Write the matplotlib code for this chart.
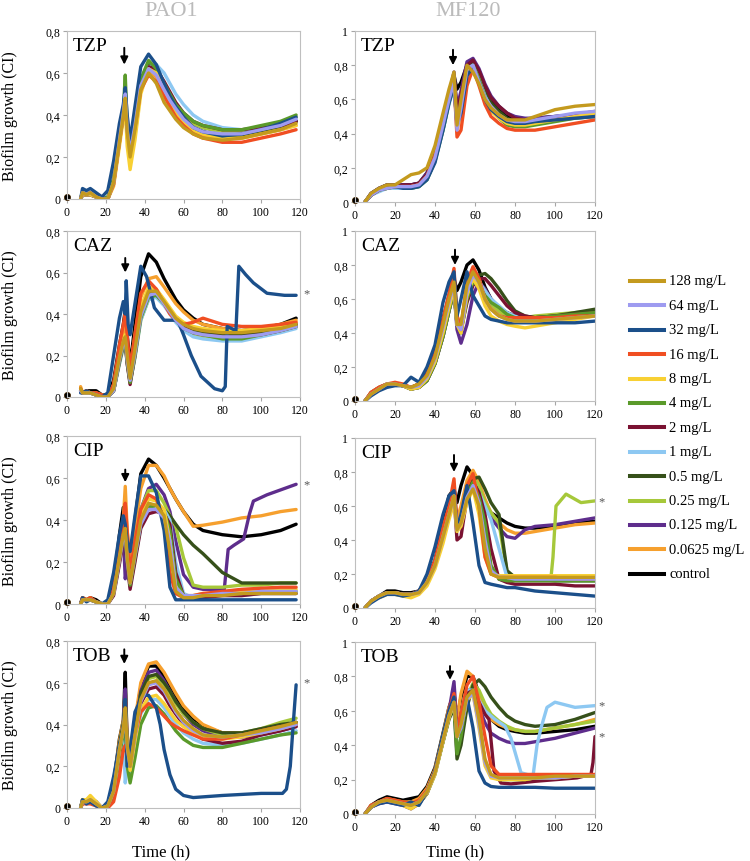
import matplotlib
matplotlib.use("Agg")
import matplotlib.pyplot as plt
from matplotlib.lines import Line2D

plt.rcParams["font.family"] = ["Liberation Serif", "DejaVu Serif"]

CONC = ["128 mg/L", "64 mg/L", "32 mg/L", "16 mg/L", "8 mg/L", "4 mg/L", "2 mg/L",
        "1 mg/L", "0.5 mg/L", "0.25 mg/L", "0.125 mg/L", "0.0625 mg/L", "control"]
COLORS = ["#C49A1E", "#9E9BF0", "#1B4F8A", "#F04E22", "#F8D033", "#5A9A2A", "#7A1232",
          "#8DC8F2", "#36501A", "#A6C83A", "#5E2D8C", "#F6A02E", "#000000"]

# time grids (h); first point is the lone reading at t=0
PAO1_T = [0, 7, 8, 10, 12, 15, 18, 21, 24, 27, 29, 30, 31, 32.5, 35, 38, 42, 46, 50, 53,
          56, 60, 65, 70, 80, 90, 100, 110, 118]
MF120_T = [0, 5, 8, 12, 16, 20, 24, 28, 32, 36, 40, 44, 47, 49.5, 51, 53, 56, 59, 62, 65,
           68, 72, 76, 80, 85, 90, 100, 110, 120]

# curves that need their own time points
PAO1_CAZ_32_T = [0, 7, 8, 10, 12, 15, 18, 21, 24, 27, 29, 30, 30.5, 31.5, 32.5, 35, 38, 41, 45, 50,
                 57, 60, 64, 69, 76, 80, 81.5, 82.5, 87, 88.5, 92, 96, 103, 112, 118]
PAO1_CAZ_32_V = [0.01, 0.02, 0.02, 0.03, 0.02, 0.01, 0.0, 0.02, 0.2, 0.38, 0.46, 0.4, 0.56, 0.35, 0.3,
                 0.45, 0.63, 0.58, 0.43, 0.37, 0.37, 0.3, 0.2, 0.1, 0.04, 0.03, 0.05, 0.34, 0.32, 0.63,
                 0.59, 0.55, 0.5, 0.49, 0.49]
PAO1_CIP_0125_T = [0, 7, 8, 10, 12, 15, 18, 21, 24, 27, 29, 30, 31, 32.5, 35, 38, 42, 46, 50, 53,
                   56, 60, 65, 70, 81, 83, 86, 91, 94, 96, 103, 118]
PAO1_CIP_0125_V = [0.01, 0.0, 0.02, 0.02, 0.02, 0.01, 0.0, 0.0, 0.06, 0.22, 0.33, 0.12, 0.18, 0.1, 0.25,
                   0.45, 0.55, 0.57, 0.52, 0.44, 0.3, 0.14, 0.08, 0.07, 0.07, 0.26, 0.28, 0.31, 0.43,
                   0.49, 0.52, 0.57]
PAO1_TOB_32_T = [0, 7, 8, 10, 12, 15, 18, 21, 24, 27, 29, 30, 31, 32.5, 35, 39, 42, 46, 48, 50,
                 53, 56, 60, 65, 80, 100, 111, 113, 115, 116.5, 118]
PAO1_TOB_32_V = [0.01, 0.0, 0.04, 0.02, 0.03, 0.01, 0.0, 0.03, 0.15, 0.3, 0.38, 0.52, 0.2, 0.28, 0.46,
                 0.54, 0.54, 0.48, 0.4, 0.28, 0.16, 0.09, 0.06, 0.05, 0.06, 0.07, 0.07, 0.09, 0.2,
                 0.4, 0.59]
MF120_CIP_025_T = [0, 5, 8, 12, 16, 20, 24, 28, 32, 36, 40, 44, 47, 49.5, 51, 53, 56, 59, 62, 65,
                   68, 72, 74, 76, 78, 90, 98, 99, 100.5, 105.5, 113, 120]
MF120_CIP_025_V = [0.01, 0.0, 0.04, 0.07, 0.09, 0.09, 0.08, 0.08, 0.09, 0.15, 0.25, 0.42, 0.55, 0.66,
                   0.48, 0.52, 0.7, 0.77, 0.72, 0.62, 0.56, 0.5, 0.35, 0.22, 0.18, 0.18, 0.18, 0.3,
                   0.6, 0.67, 0.62, 0.63]
MF120_TOB_1_T = [0, 5, 8, 12, 16, 20, 24, 28, 32, 36, 40, 44, 47, 49.5, 51, 53, 56, 59, 62, 65,
                 70, 75, 78, 80, 83, 89, 91, 93, 96, 100, 110, 120]
MF120_TOB_1_V = [0.01, 0.0, 0.04, 0.07, 0.08, 0.07, 0.06, 0.05, 0.07, 0.13, 0.24, 0.43, 0.57, 0.66,
                 0.5, 0.55, 0.72, 0.72, 0.66, 0.6, 0.55, 0.51, 0.44, 0.36, 0.24, 0.22, 0.4, 0.5,
                 0.62, 0.65, 0.62, 0.63]
MF120_TOB_2_T = [0, 5, 8, 12, 16, 20, 24, 28, 32, 36, 40, 44, 47, 49.5, 51, 53, 56, 59, 62, 65,
                 67, 69.5, 73, 78, 90, 111, 118, 119, 120]
MF120_TOB_2_V = [0.01, 0.0, 0.04, 0.07, 0.08, 0.07, 0.06, 0.04, 0.06, 0.12, 0.24, 0.43, 0.58, 0.66,
                 0.5, 0.52, 0.7, 0.72, 0.65, 0.58, 0.55, 0.25, 0.18, 0.175, 0.19, 0.21, 0.23, 0.3,
                 0.45]

# one row per concentration, in CONC order, values on the strain's grid
PAO1_TZP = [
    [0.01, 0.0, 0.03, 0.02, 0.03, 0.01, 0.0, 0.0, 0.08, 0.27, 0.4, 0.48, 0.32, 0.2, 0.33, 0.52, 0.6, 0.55, 0.46, 0.42, 0.38, 0.34, 0.31, 0.29, 0.28, 0.29, 0.31, 0.33, 0.36],
    [0.01, 0.0, 0.03, 0.02, 0.03, 0.01, 0.0, 0.0, 0.08, 0.28, 0.41, 0.5, 0.33, 0.22, 0.35, 0.54, 0.62, 0.59, 0.52, 0.47, 0.43, 0.38, 0.34, 0.32, 0.31, 0.31, 0.33, 0.35, 0.38],
    [0.01, 0.0, 0.05, 0.04, 0.05, 0.03, 0.01, 0.04, 0.18, 0.36, 0.45, 0.53, 0.4, 0.28, 0.44, 0.63, 0.69, 0.64, 0.55, 0.49, 0.44, 0.39, 0.34, 0.32, 0.3, 0.31, 0.33, 0.36, 0.39],
    [0.01, 0.0, 0.03, 0.02, 0.03, 0.01, 0.0, 0.0, 0.07, 0.27, 0.4, 0.45, 0.33, 0.24, 0.34, 0.52, 0.59, 0.56, 0.49, 0.44, 0.39, 0.35, 0.31, 0.29, 0.27, 0.27, 0.29, 0.31, 0.33],
    [0.01, 0.0, 0.02, 0.02, 0.02, 0.01, 0.0, 0.0, 0.06, 0.25, 0.38, 0.43, 0.25, 0.14, 0.28, 0.5, 0.62, 0.6, 0.53, 0.47, 0.42, 0.37, 0.33, 0.31, 0.29, 0.29, 0.31, 0.33, 0.35],
    [0.01, 0.0, 0.03, 0.02, 0.03, 0.01, 0.0, 0.01, 0.1, 0.3, 0.42, 0.59, 0.35, 0.22, 0.36, 0.57, 0.66, 0.62, 0.55, 0.5, 0.45, 0.41, 0.37, 0.35, 0.33, 0.33, 0.35, 0.37, 0.4],
    [0.01, 0.0, 0.02, 0.02, 0.02, 0.01, 0.0, 0.0, 0.08, 0.28, 0.4, 0.48, 0.3, 0.2, 0.33, 0.54, 0.63, 0.62, 0.56, 0.51, 0.46, 0.41, 0.37, 0.35, 0.33, 0.33, 0.34, 0.35, 0.37],
    [0.01, 0.0, 0.02, 0.02, 0.02, 0.01, 0.0, 0.0, 0.07, 0.27, 0.39, 0.47, 0.3, 0.17, 0.3, 0.52, 0.63, 0.64, 0.6, 0.55, 0.5, 0.45, 0.4, 0.37, 0.34, 0.33, 0.34, 0.36, 0.38],
    [0.01, 0.0, 0.03, 0.02, 0.03, 0.01, 0.0, 0.0, 0.08, 0.28, 0.41, 0.5, 0.32, 0.22, 0.35, 0.55, 0.64, 0.61, 0.54, 0.48, 0.43, 0.38, 0.34, 0.32, 0.3, 0.3, 0.32, 0.34, 0.37],
    [0.01, 0.0, 0.02, 0.02, 0.02, 0.01, 0.0, 0.0, 0.08, 0.28, 0.41, 0.52, 0.32, 0.2, 0.34, 0.56, 0.65, 0.62, 0.55, 0.5, 0.45, 0.4, 0.36, 0.34, 0.32, 0.32, 0.34, 0.36, 0.39],
    [0.01, 0.0, 0.02, 0.02, 0.02, 0.01, 0.0, 0.0, 0.08, 0.28, 0.41, 0.5, 0.32, 0.21, 0.34, 0.55, 0.63, 0.6, 0.54, 0.49, 0.44, 0.4, 0.36, 0.34, 0.32, 0.32, 0.33, 0.35, 0.37],
    [0.01, 0.0, 0.03, 0.02, 0.02, 0.01, 0.0, 0.0, 0.07, 0.27, 0.4, 0.46, 0.3, 0.19, 0.32, 0.52, 0.61, 0.58, 0.51, 0.45, 0.4, 0.36, 0.32, 0.3, 0.29, 0.29, 0.31, 0.33, 0.35],
    [0.01, 0.0, 0.02, 0.02, 0.02, 0.01, 0.0, 0.0, 0.08, 0.28, 0.41, 0.5, 0.33, 0.22, 0.35, 0.55, 0.64, 0.6, 0.53, 0.48, 0.43, 0.38, 0.34, 0.32, 0.3, 0.3, 0.32, 0.34, 0.37],
]
PAO1_CAZ = [
    [0.01, 0.04, 0.02, 0.02, 0.02, 0.01, 0.0, 0.0, 0.04, 0.19, 0.27, 0.29, 0.2, 0.09, 0.23, 0.41, 0.51, 0.51, 0.46, 0.42, 0.38, 0.35, 0.33, 0.32, 0.31, 0.31, 0.32, 0.33, 0.35],
    [0.01, 0.03, 0.02, 0.02, 0.02, 0.01, 0.0, 0.0, 0.03, 0.18, 0.26, 0.28, 0.18, 0.08, 0.21, 0.39, 0.49, 0.5, 0.45, 0.41, 0.37, 0.33, 0.31, 0.3, 0.29, 0.29, 0.3, 0.32, 0.34],
    (PAO1_CAZ_32_T, PAO1_CAZ_32_V),
    [0.01, 0.04, 0.02, 0.03, 0.02, 0.02, 0.01, 0.0, 0.06, 0.25, 0.35, 0.4, 0.3, 0.13, 0.3, 0.5, 0.56, 0.52, 0.45, 0.4, 0.37, 0.35, 0.36, 0.38, 0.35, 0.34, 0.34, 0.35, 0.36],
    [0.01, 0.03, 0.02, 0.02, 0.02, 0.01, 0.0, 0.0, 0.04, 0.2, 0.28, 0.3, 0.2, 0.1, 0.25, 0.43, 0.53, 0.52, 0.47, 0.43, 0.39, 0.36, 0.34, 0.33, 0.32, 0.32, 0.33, 0.34, 0.36],
    [0.01, 0.03, 0.02, 0.02, 0.02, 0.01, 0.0, 0.0, 0.03, 0.17, 0.25, 0.27, 0.17, 0.07, 0.2, 0.38, 0.48, 0.49, 0.45, 0.41, 0.37, 0.33, 0.31, 0.3, 0.28, 0.28, 0.3, 0.32, 0.34],
    [0.01, 0.03, 0.02, 0.02, 0.02, 0.01, 0.0, 0.0, 0.03, 0.17, 0.25, 0.26, 0.16, 0.06, 0.2, 0.39, 0.49, 0.5, 0.46, 0.42, 0.38, 0.34, 0.31, 0.3, 0.29, 0.29, 0.3, 0.32, 0.34],
    [0.01, 0.03, 0.02, 0.02, 0.02, 0.01, 0.0, 0.0, 0.03, 0.16, 0.24, 0.26, 0.16, 0.07, 0.19, 0.37, 0.47, 0.48, 0.44, 0.4, 0.36, 0.32, 0.29, 0.28, 0.27, 0.27, 0.29, 0.31, 0.33],
    [0.01, 0.03, 0.02, 0.02, 0.02, 0.01, 0.0, 0.0, 0.03, 0.18, 0.26, 0.28, 0.18, 0.08, 0.21, 0.4, 0.5, 0.5, 0.46, 0.42, 0.38, 0.34, 0.32, 0.31, 0.3, 0.3, 0.31, 0.33, 0.35],
    [0.01, 0.03, 0.02, 0.02, 0.02, 0.01, 0.0, 0.0, 0.03, 0.16, 0.24, 0.26, 0.16, 0.07, 0.19, 0.37, 0.47, 0.49, 0.45, 0.41, 0.37, 0.33, 0.3, 0.29, 0.28, 0.28, 0.3, 0.32, 0.34],
    [0.01, 0.03, 0.02, 0.02, 0.02, 0.01, 0.0, 0.0, 0.03, 0.18, 0.26, 0.28, 0.18, 0.08, 0.21, 0.4, 0.5, 0.5, 0.46, 0.42, 0.38, 0.34, 0.32, 0.31, 0.3, 0.3, 0.31, 0.33, 0.35],
    [0.01, 0.05, 0.02, 0.03, 0.02, 0.02, 0.01, 0.0, 0.06, 0.22, 0.3, 0.35, 0.25, 0.14, 0.3, 0.48, 0.57, 0.58, 0.53, 0.49, 0.45, 0.41, 0.37, 0.35, 0.33, 0.32, 0.33, 0.35, 0.37],
    [0.01, 0.04, 0.02, 0.03, 0.03, 0.03, 0.01, 0.01, 0.08, 0.25, 0.35, 0.42, 0.3, 0.15, 0.35, 0.58, 0.69, 0.65, 0.57, 0.52, 0.47, 0.42, 0.38, 0.35, 0.33, 0.32, 0.33, 0.35, 0.38],
]
PAO1_CIP = [
    [0.01, 0.0, 0.02, 0.02, 0.02, 0.01, 0.0, 0.0, 0.05, 0.22, 0.33, 0.36, 0.22, 0.1, 0.24, 0.4, 0.48, 0.47, 0.42, 0.25, 0.06, 0.03, 0.03, 0.04, 0.04, 0.05, 0.05, 0.05, 0.05],
    [0.01, 0.0, 0.02, 0.02, 0.02, 0.01, 0.0, 0.0, 0.05, 0.21, 0.32, 0.34, 0.21, 0.1, 0.23, 0.38, 0.45, 0.45, 0.41, 0.3, 0.08, 0.04, 0.04, 0.04, 0.05, 0.05, 0.06, 0.06, 0.06],
    [0.01, 0.0, 0.03, 0.01, 0.02, 0.01, 0.0, 0.02, 0.15, 0.33, 0.42, 0.38, 0.3, 0.25, 0.42, 0.61, 0.61, 0.53, 0.35, 0.08, 0.02, 0.02, 0.02, 0.02, 0.02, 0.02, 0.02, 0.02, 0.02],
    [0.01, 0.0, 0.03, 0.02, 0.03, 0.01, 0.0, 0.0, 0.07, 0.27, 0.4, 0.48, 0.35, 0.15, 0.3, 0.45, 0.52, 0.5, 0.4, 0.15, 0.05, 0.03, 0.04, 0.05, 0.06, 0.07, 0.075, 0.08, 0.08],
    [0.01, 0.0, 0.02, 0.02, 0.02, 0.01, 0.0, 0.0, 0.06, 0.25, 0.36, 0.4, 0.25, 0.12, 0.27, 0.43, 0.5, 0.49, 0.45, 0.3, 0.08, 0.04, 0.04, 0.05, 0.05, 0.06, 0.06, 0.07, 0.07],
    [0.01, 0.0, 0.02, 0.02, 0.02, 0.01, 0.0, 0.0, 0.05, 0.21, 0.32, 0.35, 0.21, 0.09, 0.22, 0.38, 0.46, 0.47, 0.44, 0.35, 0.12, 0.04, 0.03, 0.04, 0.05, 0.05, 0.06, 0.06, 0.06],
    [0.01, 0.0, 0.02, 0.02, 0.02, 0.01, 0.0, 0.0, 0.04, 0.19, 0.3, 0.32, 0.19, 0.07, 0.2, 0.36, 0.43, 0.44, 0.43, 0.38, 0.15, 0.04, 0.03, 0.03, 0.04, 0.04, 0.05, 0.05, 0.05],
    [0.01, 0.0, 0.02, 0.02, 0.02, 0.01, 0.0, 0.0, 0.05, 0.2, 0.31, 0.34, 0.2, 0.08, 0.21, 0.37, 0.46, 0.47, 0.45, 0.4, 0.2, 0.05, 0.03, 0.04, 0.04, 0.04, 0.05, 0.05, 0.05],
    [0.01, 0.0, 0.02, 0.02, 0.02, 0.01, 0.0, 0.0, 0.06, 0.22, 0.33, 0.3, 0.2, 0.1, 0.22, 0.38, 0.46, 0.47, 0.45, 0.42, 0.38, 0.33, 0.28, 0.24, 0.15, 0.1, 0.1, 0.1, 0.1],
    [0.01, 0.0, 0.02, 0.02, 0.02, 0.01, 0.0, 0.0, 0.06, 0.24, 0.35, 0.4, 0.25, 0.12, 0.28, 0.45, 0.54, 0.54, 0.48, 0.42, 0.37, 0.22, 0.09, 0.08, 0.08, 0.09, 0.09, 0.1, 0.1],
    (PAO1_CIP_0125_T, PAO1_CIP_0125_V),
    [0.01, 0.0, 0.03, 0.02, 0.03, 0.01, 0.0, 0.0, 0.07, 0.27, 0.4, 0.56, 0.35, 0.2, 0.35, 0.55, 0.66, 0.66, 0.61, 0.55, 0.5, 0.44, 0.37, 0.375, 0.39, 0.41, 0.42, 0.44, 0.45],
    [0.01, 0.0, 0.03, 0.02, 0.03, 0.02, 0.0, 0.01, 0.1, 0.33, 0.46, 0.38, 0.3, 0.2, 0.4, 0.62, 0.69, 0.66, 0.6, 0.55, 0.5, 0.44, 0.38, 0.35, 0.33, 0.32, 0.33, 0.35, 0.38],
]
PAO1_TOB = [
    [0.01, 0.0, 0.03, 0.03, 0.04, 0.02, 0.0, 0.01, 0.08, 0.28, 0.38, 0.48, 0.3, 0.2, 0.35, 0.52, 0.6, 0.61, 0.57, 0.52, 0.47, 0.42, 0.38, 0.35, 0.34, 0.35, 0.37, 0.39, 0.41],
    [0.01, 0.0, 0.03, 0.03, 0.04, 0.02, 0.0, 0.01, 0.08, 0.28, 0.38, 0.47, 0.29, 0.2, 0.34, 0.51, 0.59, 0.6, 0.56, 0.51, 0.46, 0.41, 0.37, 0.35, 0.34, 0.35, 0.36, 0.38, 0.4],
    (PAO1_TOB_32_T, PAO1_TOB_32_V),
    [0.01, 0.0, 0.02, 0.02, 0.02, 0.01, 0.0, 0.0, 0.03, 0.15, 0.28, 0.3, 0.25, 0.2, 0.35, 0.46, 0.5, 0.48, 0.44, 0.41, 0.39, 0.37, 0.35, 0.33, 0.33, 0.35, 0.37, 0.39, 0.4],
    [0.01, 0.0, 0.04, 0.04, 0.06, 0.03, 0.0, 0.01, 0.08, 0.28, 0.38, 0.45, 0.28, 0.18, 0.32, 0.47, 0.53, 0.54, 0.5, 0.46, 0.42, 0.39, 0.36, 0.34, 0.33, 0.34, 0.36, 0.38, 0.4],
    [0.01, 0.0, 0.03, 0.02, 0.03, 0.02, 0.0, 0.0, 0.06, 0.25, 0.36, 0.4, 0.2, 0.12, 0.24, 0.4, 0.48, 0.49, 0.45, 0.41, 0.37, 0.33, 0.3, 0.29, 0.29, 0.31, 0.33, 0.35, 0.36],
    [0.01, 0.0, 0.03, 0.03, 0.04, 0.02, 0.0, 0.01, 0.08, 0.28, 0.38, 0.45, 0.28, 0.2, 0.34, 0.5, 0.57, 0.58, 0.54, 0.49, 0.45, 0.4, 0.36, 0.33, 0.31, 0.32, 0.35, 0.37, 0.39],
    [0.01, 0.0, 0.03, 0.02, 0.03, 0.02, 0.0, 0.0, 0.06, 0.25, 0.36, 0.12, 0.2, 0.17, 0.3, 0.45, 0.52, 0.52, 0.48, 0.44, 0.4, 0.36, 0.33, 0.31, 0.3, 0.31, 0.33, 0.35, 0.37],
    [0.01, 0.0, 0.03, 0.03, 0.04, 0.02, 0.0, 0.01, 0.09, 0.3, 0.4, 0.5, 0.3, 0.21, 0.37, 0.55, 0.63, 0.64, 0.6, 0.56, 0.51, 0.46, 0.41, 0.38, 0.36, 0.36, 0.38, 0.4, 0.41],
    [0.01, 0.0, 0.03, 0.03, 0.04, 0.02, 0.0, 0.01, 0.09, 0.3, 0.4, 0.5, 0.3, 0.2, 0.36, 0.54, 0.62, 0.63, 0.59, 0.55, 0.5, 0.45, 0.41, 0.38, 0.35, 0.36, 0.38, 0.41, 0.43],
    [0.01, 0.0, 0.03, 0.03, 0.04, 0.02, 0.0, 0.01, 0.09, 0.3, 0.4, 0.57, 0.3, 0.22, 0.38, 0.56, 0.65, 0.66, 0.61, 0.56, 0.51, 0.45, 0.4, 0.37, 0.34, 0.34, 0.35, 0.37, 0.39],
    [0.01, 0.0, 0.04, 0.03, 0.05, 0.03, 0.0, 0.01, 0.1, 0.32, 0.42, 0.55, 0.35, 0.28, 0.42, 0.6, 0.69, 0.7, 0.65, 0.6, 0.55, 0.49, 0.44, 0.4, 0.36, 0.36, 0.37, 0.39, 0.41],
    [0.01, 0.0, 0.04, 0.03, 0.05, 0.03, 0.0, 0.02, 0.12, 0.33, 0.42, 0.65, 0.3, 0.25, 0.4, 0.58, 0.68, 0.68, 0.63, 0.58, 0.53, 0.47, 0.42, 0.39, 0.36, 0.36, 0.37, 0.39, 0.41],
]
MF120_TZP = [
    [0.01, 0.0, 0.05, 0.08, 0.1, 0.1, 0.13, 0.16, 0.17, 0.2, 0.33, 0.52, 0.66, 0.76, 0.45, 0.6, 0.8, 0.76, 0.69, 0.6, 0.55, 0.51, 0.48, 0.48, 0.48, 0.5, 0.54, 0.56, 0.57],
    [0.01, 0.0, 0.04, 0.07, 0.08, 0.09, 0.09, 0.09, 0.1, 0.15, 0.26, 0.45, 0.6, 0.7, 0.42, 0.55, 0.78, 0.8, 0.7, 0.61, 0.56, 0.51, 0.48, 0.47, 0.47, 0.48, 0.5, 0.52, 0.53],
    [0.01, 0.0, 0.04, 0.07, 0.08, 0.09, 0.08, 0.08, 0.09, 0.13, 0.23, 0.42, 0.58, 0.68, 0.45, 0.52, 0.74, 0.79, 0.7, 0.6, 0.54, 0.5, 0.47, 0.46, 0.46, 0.47, 0.48, 0.49, 0.5],
    [0.01, 0.0, 0.04, 0.07, 0.09, 0.09, 0.09, 0.09, 0.1, 0.15, 0.27, 0.45, 0.6, 0.7, 0.38, 0.42, 0.68, 0.78, 0.68, 0.57, 0.5, 0.46, 0.43, 0.42, 0.42, 0.42, 0.44, 0.46, 0.48],
    [0.01, 0.0, 0.04, 0.07, 0.08, 0.09, 0.09, 0.09, 0.1, 0.15, 0.26, 0.45, 0.6, 0.7, 0.42, 0.52, 0.76, 0.79, 0.7, 0.6, 0.53, 0.49, 0.46, 0.45, 0.45, 0.46, 0.48, 0.5, 0.52],
    [0.01, 0.0, 0.04, 0.07, 0.08, 0.09, 0.09, 0.08, 0.09, 0.13, 0.24, 0.42, 0.58, 0.68, 0.45, 0.5, 0.74, 0.8, 0.72, 0.61, 0.54, 0.49, 0.45, 0.44, 0.44, 0.45, 0.47, 0.49, 0.5],
    [0.01, 0.0, 0.04, 0.07, 0.09, 0.09, 0.1, 0.1, 0.11, 0.16, 0.27, 0.46, 0.61, 0.72, 0.55, 0.62, 0.8, 0.83, 0.77, 0.68, 0.61, 0.56, 0.52, 0.49, 0.48, 0.48, 0.49, 0.51, 0.53],
    [0.01, 0.0, 0.04, 0.06, 0.08, 0.08, 0.08, 0.08, 0.09, 0.13, 0.24, 0.42, 0.57, 0.67, 0.45, 0.52, 0.75, 0.8, 0.72, 0.62, 0.55, 0.5, 0.47, 0.46, 0.46, 0.47, 0.48, 0.49, 0.5],
    [0.01, 0.0, 0.04, 0.07, 0.09, 0.09, 0.09, 0.09, 0.1, 0.15, 0.26, 0.45, 0.6, 0.72, 0.5, 0.58, 0.78, 0.82, 0.76, 0.66, 0.58, 0.53, 0.49, 0.47, 0.47, 0.47, 0.49, 0.51, 0.52],
    [0.01, 0.0, 0.04, 0.07, 0.08, 0.09, 0.09, 0.09, 0.1, 0.15, 0.26, 0.45, 0.6, 0.7, 0.45, 0.55, 0.77, 0.8, 0.72, 0.62, 0.55, 0.5, 0.47, 0.46, 0.46, 0.47, 0.49, 0.5, 0.51],
    [0.01, 0.0, 0.05, 0.08, 0.1, 0.1, 0.1, 0.1, 0.11, 0.17, 0.29, 0.48, 0.63, 0.76, 0.55, 0.65, 0.82, 0.84, 0.78, 0.69, 0.62, 0.56, 0.52, 0.5, 0.49, 0.49, 0.5, 0.51, 0.52],
    [0.01, 0.0, 0.04, 0.07, 0.08, 0.09, 0.09, 0.09, 0.1, 0.15, 0.27, 0.46, 0.61, 0.71, 0.48, 0.56, 0.77, 0.8, 0.72, 0.62, 0.55, 0.5, 0.47, 0.46, 0.46, 0.47, 0.49, 0.5, 0.51],
    [0.01, 0.0, 0.05, 0.08, 0.1, 0.1, 0.1, 0.1, 0.11, 0.17, 0.29, 0.48, 0.63, 0.74, 0.66, 0.7, 0.8, 0.82, 0.75, 0.66, 0.59, 0.54, 0.5, 0.49, 0.48, 0.49, 0.5, 0.51, 0.52],
]
MF120_CAZ = [
    [0.01, 0.0, 0.04, 0.07, 0.1, 0.1, 0.09, 0.08, 0.1, 0.15, 0.26, 0.45, 0.6, 0.7, 0.45, 0.45, 0.68, 0.76, 0.7, 0.6, 0.54, 0.5, 0.48, 0.47, 0.47, 0.47, 0.48, 0.49, 0.5],
    [0.01, 0.0, 0.04, 0.07, 0.1, 0.1, 0.09, 0.08, 0.09, 0.14, 0.25, 0.43, 0.58, 0.68, 0.45, 0.42, 0.64, 0.74, 0.7, 0.6, 0.54, 0.5, 0.48, 0.47, 0.47, 0.47, 0.48, 0.49, 0.5],
    [0.01, 0.0, 0.03, 0.06, 0.08, 0.09, 0.09, 0.14, 0.11, 0.2, 0.33, 0.58, 0.7, 0.76, 0.5, 0.6, 0.76, 0.62, 0.56, 0.5, 0.48, 0.47, 0.46, 0.46, 0.46, 0.46, 0.46, 0.46, 0.47],
    [0.01, 0.0, 0.05, 0.08, 0.1, 0.11, 0.1, 0.08, 0.1, 0.16, 0.28, 0.48, 0.63, 0.78, 0.5, 0.42, 0.7, 0.79, 0.72, 0.6, 0.54, 0.5, 0.49, 0.49, 0.49, 0.49, 0.49, 0.5, 0.5],
    [0.01, 0.0, 0.04, 0.07, 0.09, 0.1, 0.09, 0.07, 0.08, 0.13, 0.23, 0.4, 0.55, 0.66, 0.45, 0.4, 0.62, 0.72, 0.66, 0.56, 0.5, 0.47, 0.45, 0.44, 0.43, 0.44, 0.46, 0.48, 0.5],
    [0.01, 0.0, 0.04, 0.07, 0.09, 0.1, 0.09, 0.07, 0.08, 0.12, 0.22, 0.38, 0.53, 0.65, 0.45, 0.4, 0.6, 0.7, 0.68, 0.62, 0.58, 0.55, 0.51, 0.49, 0.48, 0.49, 0.5, 0.51, 0.52],
    [0.01, 0.0, 0.04, 0.07, 0.09, 0.1, 0.09, 0.07, 0.08, 0.12, 0.22, 0.38, 0.53, 0.65, 0.45, 0.42, 0.58, 0.68, 0.72, 0.72, 0.68, 0.62, 0.56, 0.52, 0.5, 0.49, 0.5, 0.51, 0.52],
    [0.01, 0.0, 0.04, 0.07, 0.09, 0.1, 0.09, 0.07, 0.08, 0.12, 0.22, 0.38, 0.53, 0.65, 0.45, 0.42, 0.62, 0.72, 0.7, 0.65, 0.6, 0.56, 0.52, 0.5, 0.48, 0.48, 0.49, 0.5, 0.51],
    [0.01, 0.0, 0.04, 0.07, 0.09, 0.1, 0.09, 0.08, 0.09, 0.14, 0.24, 0.42, 0.56, 0.68, 0.48, 0.45, 0.62, 0.7, 0.74, 0.75, 0.72, 0.66, 0.59, 0.53, 0.5, 0.49, 0.5, 0.52, 0.54],
    [0.01, 0.0, 0.04, 0.07, 0.09, 0.1, 0.09, 0.07, 0.08, 0.12, 0.22, 0.38, 0.53, 0.65, 0.45, 0.42, 0.6, 0.7, 0.69, 0.62, 0.57, 0.53, 0.5, 0.49, 0.49, 0.5, 0.51, 0.52, 0.53],
    [0.01, 0.0, 0.04, 0.07, 0.09, 0.1, 0.09, 0.07, 0.08, 0.12, 0.22, 0.38, 0.53, 0.65, 0.42, 0.34, 0.45, 0.62, 0.7, 0.66, 0.6, 0.55, 0.51, 0.49, 0.49, 0.49, 0.5, 0.51, 0.52],
    [0.01, 0.0, 0.05, 0.08, 0.1, 0.1, 0.09, 0.08, 0.1, 0.15, 0.27, 0.46, 0.61, 0.72, 0.5, 0.45, 0.68, 0.78, 0.72, 0.62, 0.55, 0.51, 0.49, 0.48, 0.48, 0.48, 0.49, 0.5, 0.51],
    [0.01, 0.0, 0.05, 0.08, 0.1, 0.1, 0.09, 0.08, 0.1, 0.16, 0.28, 0.48, 0.62, 0.72, 0.65, 0.7, 0.8, 0.83, 0.77, 0.67, 0.6, 0.55, 0.52, 0.5, 0.49, 0.49, 0.5, 0.51, 0.53],
]
MF120_CIP = [
    [0.01, 0.0, 0.04, 0.07, 0.09, 0.09, 0.08, 0.08, 0.09, 0.15, 0.25, 0.42, 0.55, 0.66, 0.46, 0.5, 0.64, 0.7, 0.6, 0.35, 0.2, 0.18, 0.18, 0.18, 0.18, 0.18, 0.18, 0.18, 0.18],
    [0.01, 0.0, 0.04, 0.07, 0.09, 0.09, 0.08, 0.08, 0.09, 0.15, 0.25, 0.42, 0.55, 0.66, 0.46, 0.5, 0.65, 0.72, 0.62, 0.4, 0.22, 0.18, 0.18, 0.17, 0.17, 0.17, 0.17, 0.17, 0.17],
    [0.01, 0.0, 0.03, 0.06, 0.08, 0.08, 0.07, 0.08, 0.1, 0.2, 0.36, 0.55, 0.66, 0.69, 0.47, 0.55, 0.72, 0.5, 0.25, 0.15, 0.14, 0.13, 0.12, 0.12, 0.11, 0.1, 0.09, 0.08, 0.07],
    [0.01, 0.0, 0.04, 0.07, 0.09, 0.09, 0.08, 0.08, 0.1, 0.17, 0.28, 0.48, 0.6, 0.76, 0.5, 0.52, 0.72, 0.79, 0.6, 0.3, 0.2, 0.18, 0.18, 0.18, 0.18, 0.18, 0.18, 0.17, 0.17],
    [0.01, 0.0, 0.04, 0.06, 0.08, 0.08, 0.07, 0.06, 0.08, 0.13, 0.23, 0.38, 0.52, 0.62, 0.45, 0.48, 0.62, 0.7, 0.55, 0.3, 0.2, 0.19, 0.19, 0.19, 0.19, 0.19, 0.19, 0.19, 0.19],
    [0.01, 0.0, 0.04, 0.07, 0.09, 0.09, 0.08, 0.08, 0.09, 0.15, 0.25, 0.42, 0.55, 0.66, 0.46, 0.5, 0.66, 0.74, 0.65, 0.5, 0.25, 0.17, 0.16, 0.16, 0.16, 0.16, 0.16, 0.16, 0.16],
    [0.01, 0.0, 0.04, 0.07, 0.09, 0.09, 0.08, 0.08, 0.09, 0.15, 0.25, 0.42, 0.55, 0.66, 0.4, 0.42, 0.65, 0.74, 0.68, 0.55, 0.35, 0.17, 0.15, 0.14, 0.14, 0.14, 0.14, 0.13, 0.13],
    [0.01, 0.0, 0.04, 0.07, 0.09, 0.09, 0.08, 0.08, 0.09, 0.15, 0.25, 0.42, 0.55, 0.66, 0.48, 0.5, 0.66, 0.72, 0.68, 0.6, 0.52, 0.35, 0.18, 0.17, 0.17, 0.17, 0.17, 0.17, 0.17],
    [0.01, 0.0, 0.04, 0.07, 0.09, 0.09, 0.08, 0.08, 0.09, 0.15, 0.25, 0.42, 0.55, 0.66, 0.48, 0.5, 0.66, 0.76, 0.77, 0.7, 0.62, 0.55, 0.22, 0.18, 0.17, 0.17, 0.16, 0.16, 0.16],
    (MF120_CIP_025_T, MF120_CIP_025_V),
    [0.01, 0.0, 0.04, 0.07, 0.09, 0.09, 0.08, 0.08, 0.1, 0.16, 0.27, 0.45, 0.58, 0.7, 0.48, 0.5, 0.68, 0.76, 0.7, 0.6, 0.53, 0.47, 0.42, 0.41, 0.46, 0.48, 0.49, 0.51, 0.53],
    [0.01, 0.0, 0.04, 0.07, 0.09, 0.09, 0.08, 0.08, 0.1, 0.16, 0.27, 0.45, 0.58, 0.68, 0.52, 0.6, 0.75, 0.81, 0.74, 0.64, 0.56, 0.5, 0.46, 0.44, 0.44, 0.45, 0.47, 0.49, 0.5],
    [0.01, 0.0, 0.04, 0.07, 0.1, 0.1, 0.09, 0.09, 0.1, 0.17, 0.28, 0.5, 0.66, 0.7, 0.62, 0.72, 0.83, 0.78, 0.68, 0.6, 0.56, 0.53, 0.5, 0.48, 0.47, 0.47, 0.48, 0.5, 0.51],
]
MF120_TOB = [
    [0.01, 0.0, 0.04, 0.07, 0.08, 0.07, 0.06, 0.05, 0.07, 0.13, 0.24, 0.43, 0.57, 0.65, 0.45, 0.52, 0.68, 0.72, 0.55, 0.32, 0.23, 0.21, 0.21, 0.21, 0.21, 0.21, 0.22, 0.22, 0.22],
    [0.01, 0.0, 0.04, 0.07, 0.08, 0.07, 0.06, 0.05, 0.07, 0.13, 0.24, 0.43, 0.57, 0.65, 0.45, 0.5, 0.67, 0.7, 0.52, 0.3, 0.22, 0.21, 0.21, 0.21, 0.21, 0.21, 0.21, 0.22, 0.22],
    [0.01, 0.0, 0.04, 0.06, 0.07, 0.06, 0.05, 0.07, 0.05, 0.13, 0.25, 0.46, 0.6, 0.68, 0.45, 0.5, 0.68, 0.5, 0.25, 0.18, 0.16, 0.155, 0.155, 0.155, 0.155, 0.155, 0.15, 0.15, 0.15],
    [0.01, 0.0, 0.05, 0.07, 0.09, 0.08, 0.07, 0.06, 0.08, 0.14, 0.25, 0.44, 0.6, 0.7, 0.5, 0.58, 0.75, 0.8, 0.65, 0.45, 0.28, 0.23, 0.23, 0.23, 0.23, 0.23, 0.23, 0.23, 0.23],
    [0.01, 0.0, 0.04, 0.07, 0.08, 0.07, 0.05, 0.03, 0.06, 0.12, 0.23, 0.42, 0.56, 0.64, 0.45, 0.5, 0.66, 0.7, 0.5, 0.28, 0.21, 0.2, 0.2, 0.2, 0.2, 0.21, 0.21, 0.22, 0.22],
    [0.01, 0.0, 0.04, 0.07, 0.08, 0.07, 0.06, 0.04, 0.06, 0.12, 0.23, 0.42, 0.56, 0.64, 0.35, 0.45, 0.68, 0.72, 0.55, 0.3, 0.22, 0.2, 0.2, 0.2, 0.2, 0.21, 0.21, 0.22, 0.22],
    (MF120_TOB_2_T, MF120_TOB_2_V),
    (MF120_TOB_1_T, MF120_TOB_1_V),
    [0.01, 0.0, 0.04, 0.07, 0.08, 0.07, 0.06, 0.05, 0.07, 0.13, 0.24, 0.42, 0.55, 0.62, 0.32, 0.4, 0.62, 0.75, 0.78, 0.74, 0.68, 0.62, 0.57, 0.54, 0.52, 0.51, 0.52, 0.55, 0.59],
    [0.01, 0.0, 0.04, 0.07, 0.08, 0.07, 0.06, 0.05, 0.07, 0.13, 0.24, 0.42, 0.56, 0.66, 0.45, 0.5, 0.68, 0.76, 0.72, 0.64, 0.58, 0.54, 0.51, 0.49, 0.48, 0.48, 0.5, 0.52, 0.54],
    [0.01, 0.0, 0.04, 0.06, 0.07, 0.06, 0.05, 0.03, 0.06, 0.12, 0.24, 0.44, 0.6, 0.77, 0.5, 0.55, 0.72, 0.72, 0.62, 0.53, 0.47, 0.44, 0.42, 0.41, 0.41, 0.42, 0.44, 0.47, 0.5],
    [0.01, 0.0, 0.05, 0.07, 0.09, 0.08, 0.07, 0.07, 0.09, 0.15, 0.26, 0.46, 0.62, 0.7, 0.55, 0.7, 0.83, 0.8, 0.68, 0.6, 0.55, 0.52, 0.5, 0.49, 0.48, 0.48, 0.5, 0.52, 0.55],
    [0.01, 0.0, 0.05, 0.08, 0.1, 0.09, 0.08, 0.09, 0.1, 0.16, 0.27, 0.47, 0.62, 0.7, 0.55, 0.68, 0.8, 0.8, 0.7, 0.6, 0.55, 0.51, 0.49, 0.48, 0.47, 0.47, 0.48, 0.49, 0.51],
]

# treatment arrow (time, tail, head) and asterisk heights per panel
PANELS = [
    # col, row, label, grid, rows, ymax, arrow, stars
    (0, 0, "TZP", PAO1_T, PAO1_TZP, 0.8, (29.5, 0.72, 0.64), []),
    (0, 1, "CAZ", PAO1_T, PAO1_CAZ, 0.8, (30, 0.67, 0.6), [0.5]),
    (0, 2, "CIP", PAO1_T, PAO1_CIP, 0.8, (30, 0.64, 0.58), [0.57]),
    (0, 3, "TOB", PAO1_T, PAO1_TOB, 0.8, (29.5, 0.76, 0.69), [0.6]),
    (1, 0, "TZP", MF120_T, MF120_TZP, 1.0, (49, 0.89, 0.8), []),
    (1, 1, "CAZ", MF120_T, MF120_CAZ, 1.0, (50, 0.89, 0.8), []),
    (1, 2, "CIP", MF120_T, MF120_CIP, 1.0, (49.5, 0.9, 0.8), [0.63]),
    (1, 3, "TOB", MF120_T, MF120_TOB, 1.0, (47.5, 0.86, 0.78), [0.63, 0.45]),
]

# axes boxes in pixels: (left, right) per column, (top, bottom) per row
COL_X = [(67, 300), (355, 595)]
ROW_Y = [[(32, 200), (232, 398), (437, 605), (642, 809)],
         [(32, 203), (232, 402), (439, 609), (643, 815)]]
W, H = 750, 862


def fmt(v):
    return "0" if v == 0 else ("1" if v == 1 else f"{v:.1f}".replace(".", ","))


fig = plt.figure(figsize=(W / 100, H / 100), dpi=100)
fig.patch.set_facecolor("white")

for col, row, label, grid, rows, ymax, arrow, stars in PANELS:
    x0, x1 = COL_X[col]
    top, bot = ROW_Y[col][row]
    ax = fig.add_axes([x0 / W, 1 - bot / H, (x1 - x0) / W, (bot - top) / H])

    # control drawn first so the high doses sit on top, as in the original
    for i in reversed(range(len(CONC))):
        r = rows[i]
        t, v = r if isinstance(r, tuple) else (grid, r)
        ax.plot(t[1:], v[1:], color=COLORS[i], lw=2.4,
                solid_joinstyle="round", solid_capstyle="round")
    # the single reading at t=0; darker series end up on top
    for i in range(len(CONC)):
        r = rows[i]
        t, v = r if isinstance(r, tuple) else (grid, r)
        ax.plot(t[0], v[0], "o", color=COLORS[i], ms=3.5, clip_on=False)

    ax.set_xlim(0, 120)
    ax.set_ylim(0, ymax)
    ax.set_xticks(range(0, 121, 20))
    yt = [0, 0.2, 0.4, 0.6, 0.8] + ([1.0] if ymax == 1.0 else [])
    ax.set_yticks(yt)
    ax.set_yticklabels([fmt(v) for v in yt])
    ax.tick_params(direction="out", length=3, width=0.8, color="#A6A6A6",
                   labelsize=8.5, pad=2)
    for s in ax.spines.values():
        s.set_color("#BFBFBF")
        s.set_linewidth(0.8)

    ax.text(0.025, 0.965, label, transform=ax.transAxes, fontsize=14,
            va="top", ha="left")
    at, ay0, ay1 = arrow
    ax.annotate("", xy=(at, ay1), xytext=(at, ay0),
                arrowprops=dict(arrowstyle="-|>", color="black", lw=1.4,
                                mutation_scale=11, shrinkA=0, shrinkB=0))
    for sy in stars:
        ax.text(121.5, sy, "*", fontsize=9, color="#555555",
                va="center", ha="left", clip_on=False)

    if col == 0:
        fig.text(10 / W, 1 - (top + bot) / 2 / H, "Biofilm growth (CI)",
                 rotation=90, fontsize=11.5, va="center", ha="center")

fig.text(171 / W, 1 - 12 / H, "PAO1", fontsize=16, color="#BBBBBB",
         ha="center", va="center")
fig.text(468 / W, 1 - 12 / H, "MF120", fontsize=16, color="#BBBBBB",
         ha="center", va="center")
fig.text(161 / W, 1 - 852 / H, "Time (h)", fontsize=12, ha="center", va="center")
fig.text(455 / W, 1 - 852 / H, "Time (h)", fontsize=12, ha="center", va="center")

# legend drawn by hand so rows sit where the original has them
for i, (lab, c) in enumerate(zip(CONC, COLORS)):
    y = 1 - (282 + i * 24.4) / H
    fig.add_artist(Line2D([630 / W, 664 / W], [y, y], color=c, lw=2.9,
                          transform=fig.transFigure))
    fig.text(669 / W, y, lab, fontsize=10.5, va="center", ha="left")

fig.savefig("out.png", dpi=100, facecolor="white")
